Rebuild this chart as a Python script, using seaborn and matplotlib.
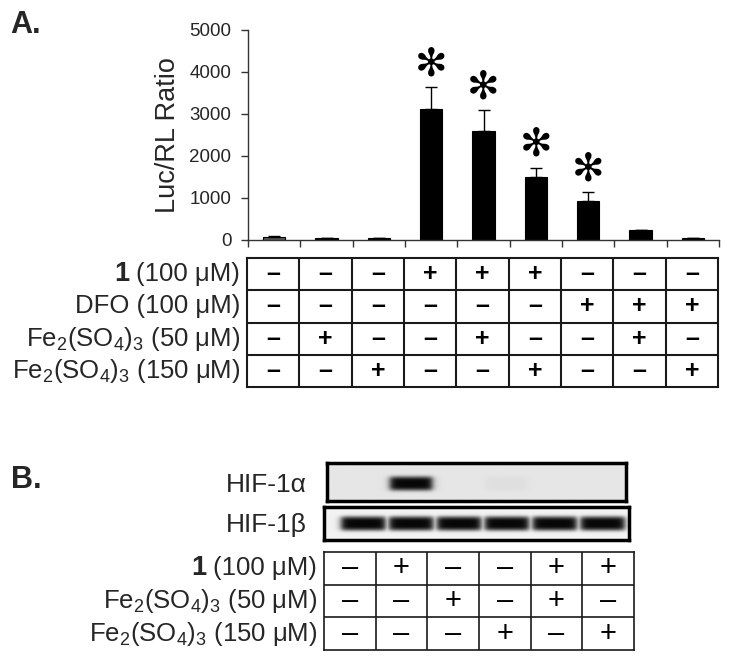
import numpy as np
import matplotlib
matplotlib.use('Agg')
import matplotlib.pyplot as plt
import matplotlib.transforms as mtransforms
import seaborn as sns

# Panel A - reporter assay
lanes_a = ['1', '2', '3', '4', '5', '6', '7', '8', '9']
luc_ratio = [70, 40, 40, 3110, 2600, 1500, 935, 235, 45]
luc_err = [25, 0, 0, 525, 495, 220, 205, 0, 0]
significant = [False, False, False, True, True, True, True, False, False]

labels_a = ['(100 μM)', 'DFO (100 μM)',
            'Fe$_2$(SO$_4$)$_3$ (50 μM)', 'Fe$_2$(SO$_4$)$_3$ (150 μM)']
cpd1_a = ['-', '-', '-', '+', '+', '+', '-', '-', '-']
dfo_a = ['-', '-', '-', '-', '-', '-', '+', '+', '+']
fe50_a = ['-', '+', '-', '-', '+', '-', '-', '+', '-']
fe150_a = ['-', '-', '+', '-', '-', '+', '-', '-', '+']

# Panel B - western blot
hif1a = [0, 1, 0, 0.03, 0, 0]
hif1b = [1, 1, 1, 1, 1, 1]
labels_b = ['(100 μM)', 'Fe$_2$(SO$_4$)$_3$ (50 μM)', 'Fe$_2$(SO$_4$)$_3$ (150 μM)']
cpd1_b = ['-', '+', '-', '-', '+', '+']
fe50_b = ['-', '-', '+', '-', '+', '-']
fe150_b = ['-', '-', '-', '+', '-', '+']

sns.set_theme(style='ticks')
plt.rcParams['font.family'] = ['Liberation Sans', 'DejaVu Sans']
plt.rcParams['mathtext.fontset'] = 'custom'
plt.rcParams['mathtext.rm'] = 'Liberation Sans'
plt.rcParams['mathtext.it'] = 'Liberation Sans:italic'
plt.rcParams['mathtext.bf'] = 'Liberation Sans:bold'

W, H = 729, 659
fig = plt.figure(figsize=(W / 100, H / 100), dpi=100)


def px_axes(l, t, r, b):
    return fig.add_axes([l / W, 1 - b / H, (r - l) / W, (b - t) / H])


def draw_table(ax, rows, labels, size, weight, lw, bold_first=False):
    nr, nc = len(rows), len(rows[0])
    ax.set_xlim(0, nc)
    ax.set_ylim(nr, 0)
    ax.set_xticks([])
    ax.set_yticks([])
    for s in ax.spines.values():
        s.set_visible(True)
        s.set_linewidth(lw)
        s.set_color('#1a1a1a')
    ax.hlines(range(1, nr), 0, nc, color='#1a1a1a', lw=lw)
    ax.vlines(range(1, nc), 0, nr, color='#1a1a1a', lw=lw)
    for r, row in enumerate(rows):
        for c, v in enumerate(row):
            ax.text(c + 0.5, r + 0.5, '+' if v == '+' else '–', ha='center', va='center',
                    fontsize=size, fontweight=weight, color='black')
    tr = mtransforms.offset_copy(ax.get_yaxis_transform(), fig=fig, x=-7, y=0, units='dots')
    for r, lab in enumerate(labels):
        t = ax.text(0, r + 0.5, lab, transform=tr, ha='right', va='center', fontsize=18.5)
        if r == 0 and bold_first:
            ax.annotate('1', xy=(0, 0.5), xycoords=t, xytext=(-5, 0), textcoords='offset points',
                        ha='right', va='center', fontsize=19.5, fontweight='bold')


# ---- panel A bars
ax = px_axes(248, 30, 719, 240)
bar_colors = ['#5a5a5a'] + ['black'] * 8
sns.barplot(x=lanes_a, y=luc_ratio, hue=lanes_a, palette=bar_colors, legend=False,
            width=0.43, edgecolor='black', linewidth=0.8, ax=ax)
ax.errorbar(range(len(lanes_a)), luc_ratio, yerr=[np.zeros(len(luc_err)), luc_err],
            fmt='none', ecolor='black', elinewidth=1, capsize=4, capthick=1)
for i, sig in enumerate(significant):
    if sig:
        ax.text(i, luc_ratio[i] + luc_err[i] + 640, '✻', ha='center', va='center_baseline',
                fontsize=28, fontweight='bold', color='black', family=['DejaVu Sans'])
ax.set_xlim(-0.5, 8.5)
ax.set_ylim(0, 5000)
ax.set_yticks([0, 1000, 2000, 3000, 4000, 5000])
ax.set_xticks(np.arange(-0.5, 9, 1))
ax.set_xticklabels([])
ax.set_xlabel('')
ax.set_ylabel('Luc/RL Ratio', fontsize=19.5, labelpad=6)
ax.tick_params(axis='both', direction='out', length=5, width=1, color='#333333')
ax.tick_params(axis='y', labelsize=13.5, pad=7)
sns.despine(ax=ax)
for s in ['left', 'bottom']:
    ax.spines[s].set_color('#333333')
    ax.spines[s].set_linewidth(1)

tab_a = px_axes(247, 258, 718, 387)
draw_table(tab_a, [cpd1_a, dfo_a, fe50_a, fe150_a], labels_a, 18, 'bold', 1.5, bold_first=True)


# ---- panel B blot
def lane_x(px):
    return (px - 363) / 48


def blot(ax, levels, xlim, bg, yc, hh, hw):
    xs = np.linspace(xlim[0], xlim[1], 320)
    ys = np.linspace(0, 1, 60)
    X, Y = np.meshgrid(xs, ys)
    dark = np.zeros_like(X)
    for i, lv in enumerate(levels):
        px = 1 / (1 + np.exp((np.abs(X - i) - hw) / 0.04))
        py = np.exp(-((Y - yc) / hh) ** 4)
        dark = np.maximum(dark, lv * px * py)
    img = bg * (1 - 0.97 * dark)
    ax.imshow(img, cmap='gray', vmin=0, vmax=1, extent=(xlim[0], xlim[1], 1, 0),
              aspect='auto', interpolation='bilinear')
    ax.set_xlim(*xlim)
    ax.set_ylim(1, 0)
    ax.set_xticks([])
    ax.set_yticks([])
    for s in ax.spines.values():
        s.set_visible(True)
        s.set_linewidth(2.5)
        s.set_color('black')


ax_a = px_axes(327, 463, 626, 501)
blot(ax_a, hif1a, (lane_x(327), lane_x(626)), 0.9, 0.54, 0.19, 0.44)
ax_b = px_axes(324, 507, 629, 540)
blot(ax_b, hif1b, (lane_x(324), lane_x(629)), 0.95, 0.5, 0.22, 0.46)

fig.text(307 / W, 1 - 485 / H, 'HIF-1α', ha='right', va='center', fontsize=19)
fig.text(307 / W, 1 - 525 / H, 'HIF-1β', ha='right', va='center', fontsize=19)

tab_b = px_axes(324, 552, 634, 650)
draw_table(tab_b, [cpd1_b, fe50_b, fe150_b], labels_b, 21, 'normal', 1.2, bold_first=True)

fig.text(10 / W, 1 - 25 / H, 'A.', ha='left', va='center', fontsize=22, fontweight='bold')
fig.text(11 / W, 1 - 480 / H, 'B.', ha='left', va='center', fontsize=22, fontweight='bold')

fig.savefig('out.png', dpi=100)
